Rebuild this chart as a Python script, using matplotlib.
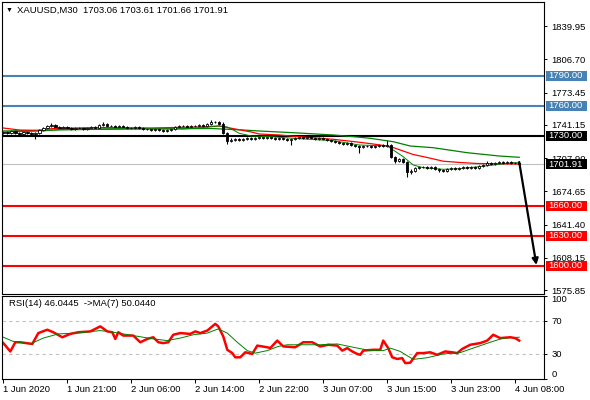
import matplotlib
matplotlib.use('Agg')
import matplotlib.pyplot as plt
import matplotlib.transforms as mtransforms
from matplotlib.patches import Rectangle

plt.rcParams['font.family'] = ['Liberation Sans', 'DejaVu Sans']
FS = 6.8

# ---- data ----
symbol = 'XAUUSD,M30'
last_ohlc = [1703.06, 1703.61, 1701.66, 1701.91]

closes = [1734, 1733, 1735, 1733, 1732, 1734, 1733, 1732, 1733, 1736,
          1738, 1740, 1741, 1739, 1738, 1739, 1738, 1737, 1738, 1738,
          1737, 1738, 1739, 1738, 1741, 1742, 1740, 1740, 1739, 1740,
          1739, 1738, 1738, 1739, 1738, 1737, 1737, 1736, 1737, 1736,
          1735, 1736, 1737, 1739, 1740, 1740, 1739, 1740, 1740, 1741,
          1740, 1742, 1744, 1744, 1742, 1733, 1725, 1726, 1727, 1726,
          1727, 1728, 1727, 1728, 1729, 1728, 1729, 1728, 1727, 1728,
          1727, 1726, 1727, 1728, 1729, 1728, 1729, 1728, 1727, 1728,
          1727, 1726, 1725, 1724, 1723, 1722, 1723, 1721, 1720, 1719,
          1720, 1720, 1719, 1720, 1721, 1720, 1721, 1709, 1705, 1707,
          1704, 1694, 1695, 1698, 1699, 1699, 1698, 1699, 1697, 1696,
          1695, 1697, 1698, 1697, 1698, 1699, 1698, 1699, 1698, 1700,
          1701, 1703, 1702, 1703, 1704, 1703, 1704, 1703, 1703.06, 1701.91]
opens = [1733] + closes[:-1]
highs = [1735, 1735, 1736, 1736, 1734, 1735, 1735, 1734, 1734, 1737,
         1739, 1741, 1743, 1742, 1740, 1740, 1740, 1739, 1739, 1739,
         1739, 1739, 1740, 1740, 1742, 1744, 1743, 1741, 1741, 1741,
         1741, 1740, 1739, 1740, 1740, 1739, 1738, 1738, 1738, 1738,
         1737, 1737, 1738, 1740, 1741, 1741, 1741, 1741, 1741, 1742,
         1742, 1743, 1746, 1745, 1745, 1744, 1734, 1728, 1728, 1728,
         1728, 1729, 1729, 1729, 1730, 1730, 1730, 1730, 1729, 1729,
         1729, 1728, 1728, 1729, 1730, 1730, 1730, 1730, 1729, 1729,
         1729, 1728, 1727, 1726, 1725, 1724, 1724, 1724, 1722, 1721,
         1721, 1721, 1721, 1721, 1722, 1722, 1726, 1722, 1710, 1708,
         1708, 1705, 1697, 1699, 1700, 1700, 1700, 1700, 1700, 1698,
         1697, 1698, 1699, 1699, 1699, 1700, 1700, 1700, 1700, 1701,
         1702, 1705, 1704, 1704, 1705, 1705, 1705, 1705, 1704, 1703.61]
lows = [1732, 1732, 1732, 1732, 1731, 1731, 1732, 1731, 1727, 1732,
        1735, 1737, 1739, 1738, 1737, 1737, 1737, 1736, 1736, 1737,
        1736, 1736, 1737, 1737, 1737, 1740, 1739, 1739, 1738, 1738,
        1738, 1737, 1737, 1737, 1737, 1736, 1736, 1735, 1735, 1735,
        1734, 1734, 1735, 1736, 1738, 1739, 1738, 1738, 1739, 1739,
        1739, 1739, 1741, 1743, 1741, 1732, 1722, 1724, 1725, 1725,
        1725, 1726, 1726, 1726, 1727, 1727, 1727, 1727, 1726, 1726,
        1726, 1725, 1721, 1726, 1727, 1727, 1727, 1727, 1726, 1726,
        1726, 1725, 1724, 1723, 1722, 1721, 1721, 1720, 1719, 1713,
        1718, 1719, 1718, 1718, 1719, 1719, 1719, 1708, 1703, 1704,
        1703, 1689, 1692, 1694, 1697, 1698, 1697, 1697, 1696, 1694,
        1694, 1694, 1696, 1696, 1696, 1697, 1697, 1697, 1697, 1697,
        1699, 1700, 1701, 1701, 1702, 1702, 1702, 1702, 1702, 1701.66]

# moving averages on price (bar position, value)
ma_slow_x = [0, 20, 35, 52, 60, 64, 72.5, 82.5, 88.5, 91.75, 97.5, 101.75, 107.5, 116, 124, 129]
ma_slow = [1735, 1736.5, 1737, 1737.5, 1736, 1735, 1733.3, 1731, 1729, 1727.7, 1724.3, 1720,
           1718.3, 1713.3, 1710, 1708.7]
ma_mid_x = [0, 4, 8.5, 12.5, 24, 37, 49, 54, 58, 62, 64, 69, 74, 82.5, 88.5, 92.5, 96.75, 99.25,
            102.5, 106, 110, 114.25, 118.5, 129]
ma_mid = [1738, 1736, 1735.5, 1737.5, 1738.5, 1738, 1739, 1740, 1737, 1734, 1732, 1731, 1729.3,
          1726.7, 1724, 1722, 1719.5, 1716, 1711.5, 1708.5, 1704.8, 1703.5, 1702.5, 1702]
ma_fast_x = [0, 10, 14, 30, 45, 50, 54, 56, 57.5, 59, 62, 67, 72.5, 82.5, 89, 96, 97.5, 100,
             102.5, 105, 110, 114, 119, 122.5, 127.5, 129]
ma_fast = [1734, 1735, 1736.5, 1737.5, 1737, 1738.5, 1740, 1739, 1736, 1732.7, 1730, 1729.3,
           1727.7, 1725.3, 1721, 1720, 1716, 1709.3, 1701, 1698.3, 1696.7, 1697.3, 1699.3, 1701,
           1703.3, 1703.3]

# RSI(14) and its MA(7)
rsi_x = [0, 1.75, 3, 4.25, 7.25, 8.75, 11, 12.5, 14.75, 16.75, 18.75, 21.75, 24.25, 26, 27.25,
         28, 28.75, 30, 32.5, 34.25, 36, 37.5, 38.75, 40, 41.25, 42.5, 44.25, 46.75, 48, 49.25,
         51, 53, 53.75, 55, 56, 57.25, 58, 59.25, 60.5, 62.25, 63.5, 66, 66.75, 68.5, 70, 73, 75,
         77.25, 79.25, 81.25, 83.5, 84.75, 86, 87.25, 88.5, 89.25, 90, 92.5, 94.25, 95, 96.25,
         97.25, 98.5, 99.75, 100.5, 101.75, 103.5, 105, 106.75, 108.5, 110.5, 112.25, 113.5,
         114.75, 116.75, 119.25, 121, 122.5, 124.25, 126.75, 128, 129]
rsi = [43, 33, 44, 44, 42, 55, 59, 56, 50, 54, 56, 57, 63, 57, 56, 48, 56, 52, 52, 44, 48, 50,
       44, 43, 44, 53, 55, 54, 57, 55, 58, 66, 63, 51, 35, 31, 26, 26, 32, 30, 40, 38, 37, 46,
       39, 38, 44, 44, 39, 41, 40, 34, 37, 33, 30, 29, 34, 35, 35, 46, 37, 26, 24, 25, 19, 19.5,
       31, 31, 32, 29, 33, 32, 31, 36, 41, 43, 46, 53, 49, 50, 49, 46.04]
rsi_ma_x = [0, 2.5, 6.75, 10, 13.75, 18.5, 24.25, 27.5, 32.5, 37.5, 41, 44.25, 47.5, 51, 53.75,
            56, 58.5, 61, 63, 66, 68.75, 71, 79.25, 83.5, 87.5, 91.75, 95, 96.75, 99.25, 102.5,
            106, 110, 114.25, 117.5, 121.75, 125, 129]
rsi_ma = [50, 45, 42, 49, 54, 55, 58, 56, 52, 48, 46, 49, 53, 55, 60, 55, 44, 34, 31, 34, 39, 41,
          41, 42, 38, 34, 34, 37, 33, 23.5, 25.5, 30, 31.6, 37, 44, 49, 50.04]
rsi_last = 46.0445
rsi_ma_last = 50.0440

# horizontal levels
level_prices = [1790, 1760, 1730, 1660, 1630, 1600]
level_colors = ['#4682B4', '#4682B4', 'black', '#FF0000', '#FF0000', '#FF0000']
target_price = 1601
target_bar = 133.3

price_ticks = [1575.85, 1608.15, 1641.40, 1674.65, 1707.90, 1741.15, 1773.45, 1806.70, 1839.95]
time_ticks = [0, 16, 32, 48, 64, 80, 96, 112, 128]
time_labels = ['1 Jun 2020', '1 Jun 21:00', '2 Jun 06:00', '2 Jun 14:00', '2 Jun 22:00',
               '3 Jun 07:00', '3 Jun 15:00', '3 Jun 23:00', '4 Jun 08:00']
rsi_levels = [30, 70]
rsi_ticks = [0, 30, 70, 100]

# ---- figure ----
fig = plt.figure(figsize=(5.9, 4.0), dpi=100)
W, H = 590.0, 400.0
ax = fig.add_axes([2 / W, 1 - 293.5 / H, 542 / W, 291.5 / H])
ax2 = fig.add_axes([2 / W, 1 - 379 / H, 542 / W, 83.5 / H])

xlim = (-0.33, 135.2)
for a in (ax, ax2):
    a.set_xlim(*xlim)
    for s in a.spines.values():
        s.set_color('black')
        s.set_linewidth(0.8)

ax.set_ylim(1572.5, 1864)
ax.set_xticks([])
ax.yaxis.tick_right()
ax.set_yticks(price_ticks)
ax.set_yticklabels(['%.2f' % v for v in price_ticks])
ax.tick_params(axis='y', length=2.5, width=0.7, pad=2.5, labelsize=FS)

# levels
for p, col in zip(level_prices, level_colors):
    ax.axhline(p, color=col, lw=1.5, zorder=2)
ax.axhline(last_ohlc[3], color='#C0C0C0', lw=0.8, zorder=1)

# candles
idx = list(range(len(closes)))
ax.vlines(idx, lows, highs, color='black', lw=0.8, zorder=3)
bottoms = [min(o, c) for o, c in zip(opens, closes)]
heights = [abs(c - o) for o, c in zip(opens, closes)]
faces = ['white' if c >= o else 'black' for o, c in zip(opens, closes)]
ax.bar(idx, heights, bottom=bottoms, width=0.6, color=faces, edgecolor='black',
       linewidth=0.6, zorder=4)

# moving averages
ax.plot(ma_slow_x, ma_slow, color='#008000', lw=0.9, zorder=3)
ax.plot(ma_mid_x, ma_mid, color='#FF0000', lw=0.9, zorder=3)
ax.plot(ma_fast_x, ma_fast, color='#008000', lw=0.7, zorder=3)

# arrow to the target
ax.annotate('', xy=(target_bar, target_price), xytext=(idx[-1], last_ohlc[3] + 2),
            arrowprops=dict(arrowstyle='-|>', color='black', lw=1.6, mutation_scale=9,
                            shrinkA=0, shrinkB=0), zorder=6)

# price labels on the right scale
trans = mtransforms.blended_transform_factory(ax.transAxes, ax.transData)
box_labels = list(zip(level_prices, level_colors)) + [(last_ohlc[3], 'black')]
for p, col in box_labels:
    ax.add_patch(Rectangle((1 + 2 / 542, p - 5), 41 / 542, 10, transform=trans,
                           facecolor=col, edgecolor='none', clip_on=False, zorder=7))
    ax.text(1 + 4.5 / 542, p, '%.2f' % p, transform=trans, color='white', fontsize=FS,
            va='center', ha='left', zorder=8, clip_on=False)

# title
fig.text(6 / W, 1 - 10.5 / H, '\u25bc', fontsize=5, va='center', ha='left', color='black')
fig.text(17 / W, 1 - 10.5 / H,
         '%s  %.2f %.2f %.2f %.2f' % (symbol, *last_ohlc),
         fontsize=FS, va='center', ha='left', color='black')

# ---- RSI window ----
ax2.set_ylim(0, 100)
for lv in rsi_levels:
    ax2.axhline(lv, color='#C0C0C0', lw=0.8, ls=(0, (3, 3)))
ax2.plot(rsi_x, rsi, color='#FF0000', lw=1.8)
ax2.plot(rsi_ma_x, rsi_ma, color='#008000', lw=0.7)
ax2.yaxis.tick_right()
ax2.set_yticks(rsi_ticks)
ax2.set_yticklabels([str(v) for v in rsi_ticks])
ax2.tick_params(axis='y', length=2.5, width=0.7, pad=3, labelsize=FS)
ylabs = ax2.get_yticklabels()
ylabs[0].set_va('bottom')
ylabs[-1].set_va('top')

ax2.set_xticks(time_ticks)
ax2.set_xticklabels(time_labels, ha='left')
ax2.tick_params(axis='x', length=3, width=0.7, pad=1.5, labelsize=FS)

ax2.text(7 / 542, 0.9, 'RSI(14) %.4f  ->MA(7) %.4f' % (rsi_last, rsi_ma_last),
         transform=ax2.transAxes, fontsize=FS, va='center', ha='left', color='black')

fig.savefig('out.png', dpi=100)
